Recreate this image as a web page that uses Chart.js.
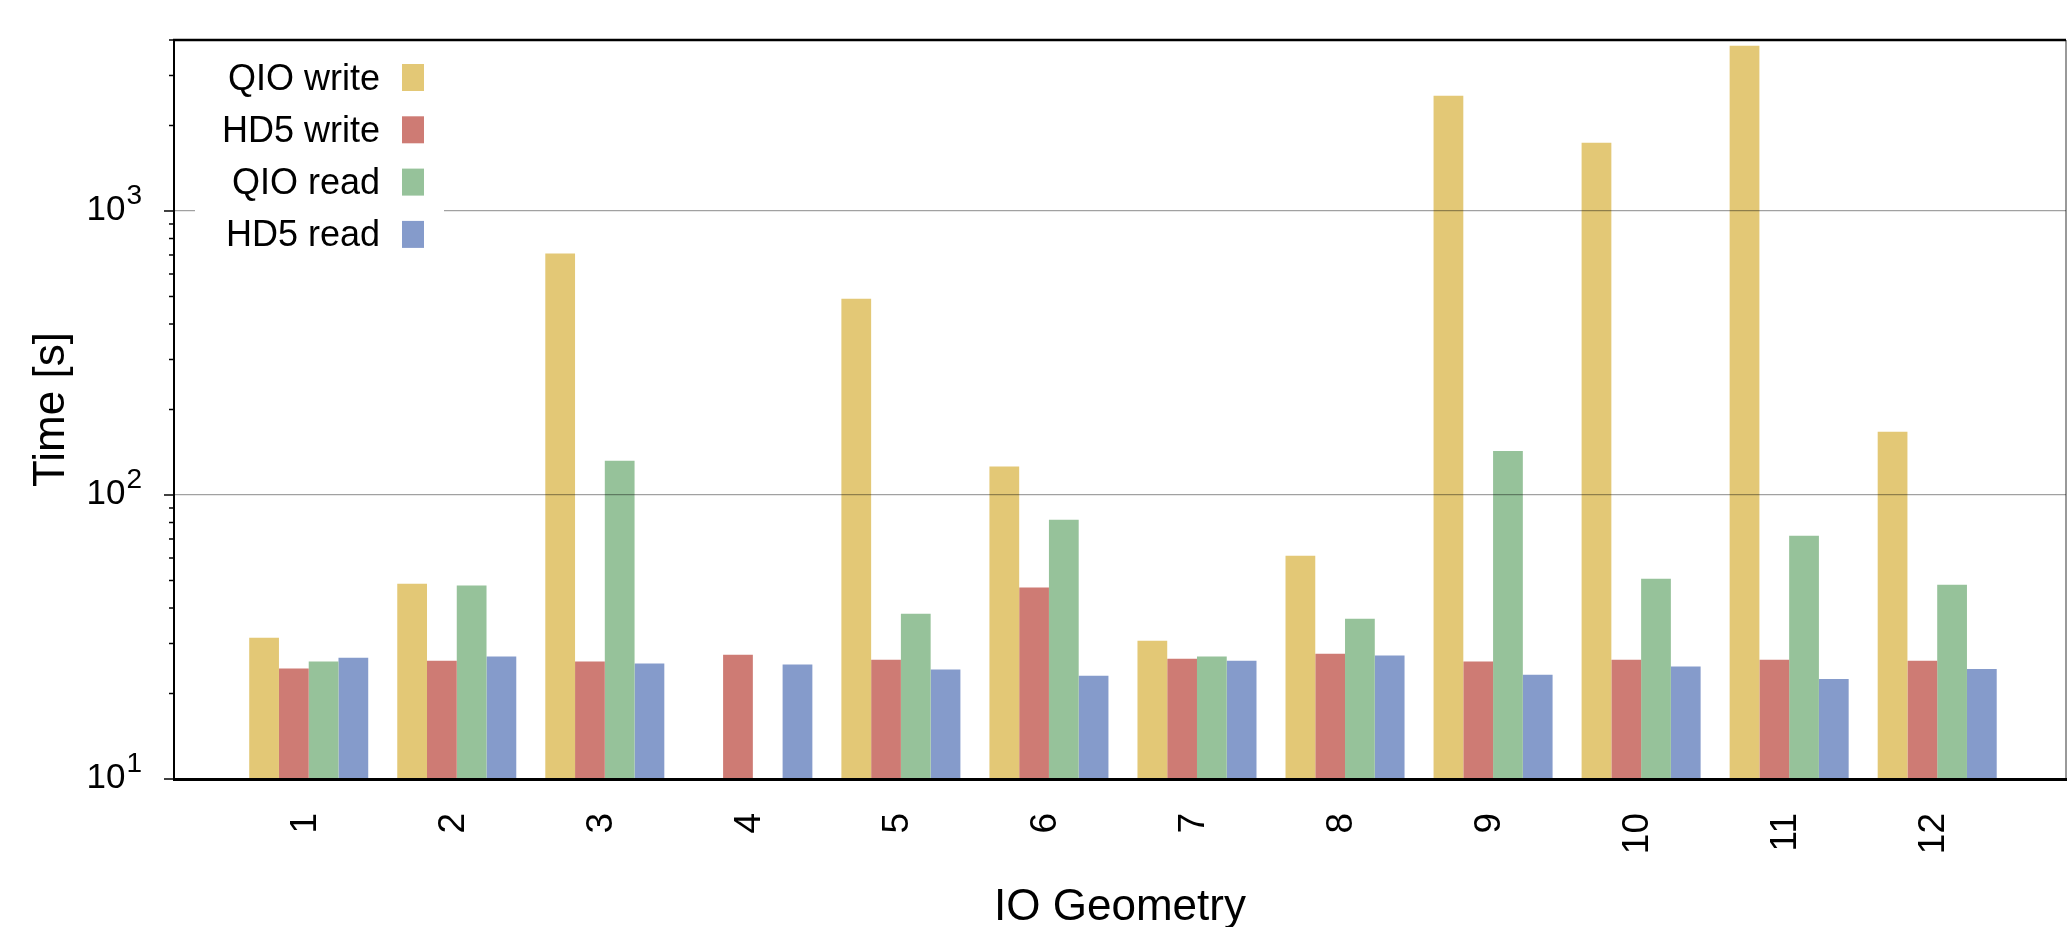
<!DOCTYPE html>
<html>
<head>
<meta charset="utf-8">
<script src="https://cdn.jsdelivr.net/npm/chart.js@4.4.0/dist/chart.umd.min.js"></script>
<style>
html,body{margin:0;padding:0;background:#fff;}
#wrap{width:2069px;height:927px;position:relative;}
</style>
</head>
<body>
<div id="wrap"><canvas id="c"></canvas></div>
<script>
// ---- data ----
const categories = ['1','2','3','4','5','6','7','8','9','10','11','12'];
const seriesNames = ['QIO write','HD5 write','QIO read','HD5 read'];
const qioWrite = [31.4, 48.7, 708, null, 491, 126, 30.7, 61.1, 2547, 1740, 3820, 167];
const hd5Write = [24.5, 26.1, 25.9, 27.4, 26.3, 47.2, 26.5, 27.6, 25.9, 26.3, 26.3, 26.1];
const qioRead  = [25.9, 48.0, 132, null, 38.2, 81.8, 27.0, 36.7, 143, 50.7, 71.9, 48.3];
const hd5Read  = [26.7, 27.0, 25.5, 25.3, 24.3, 23.1, 26.1, 27.2, 23.3, 24.9, 22.5, 24.4];
const yMajorTicks = [10, 100, 1000];
const yTickBase = '10';
const yTickExponents = ['1', '2', '3'];
const yMin = 10, yMax = 4000;
const xTitle = 'IO Geometry';
const yTitle = 'Time [s]';

// ---- styles ----
const seriesColors = ['#e3c876', '#ce7b74', '#96c29a', '#859bcb'];
const FONT = "'Liberation Sans', Arial, Helvetica, sans-serif";
Chart.defaults.font.family = FONT;
Chart.defaults.color = '#000';

const seriesValues = [qioWrite, hd5Write, qioRead, hd5Read];

const frameAndTicks = {
  id: 'frameAndTicks',
  afterDatasetsDraw(chart) {
    const ctx = chart.ctx, a = chart.chartArea, y = chart.scales.y;
    ctx.save();
    ctx.strokeStyle = '#000';
    ctx.lineWidth = 1.5;
    y.ticks.forEach(t => {
      const p = y.getPixelForValue(t.value);
      const lg = Math.log10(t.value);
      const major = Math.abs(lg - Math.round(lg)) < 1e-9;
      const len = major ? 10 : 5;
      ctx.beginPath();
      ctx.moveTo(a.left - len, p);
      ctx.lineTo(a.left, p);
      ctx.stroke();
    });
    // y tick labels: 10 with superscript exponent
    ctx.fillStyle = '#000';
    ctx.textBaseline = 'alphabetic';
    ctx.textAlign = 'left';
    yMajorTicks.forEach((v, i) => {
      const p = y.getPixelForValue(v);
      ctx.font = '35px ' + FONT;
      const wb = ctx.measureText(yTickBase).width;
      ctx.font = '28px ' + FONT;
      const we = ctx.measureText(yTickExponents[i]).width;
      const right = a.left - 32;
      const x0 = right - we - 1 - wb;
      ctx.font = '35px ' + FONT;
      ctx.fillText(yTickBase, x0, p + 9);
      ctx.font = '28px ' + FONT;
      ctx.fillText(yTickExponents[i], x0 + wb + 1, p - 7);
    });
    // right border
    ctx.strokeStyle = '#777';
    ctx.lineWidth = 1.5;
    ctx.beginPath();
    ctx.moveTo(a.right, a.top);
    ctx.lineTo(a.right, a.bottom);
    ctx.stroke();
    // top border
    ctx.strokeStyle = '#000';
    ctx.lineWidth = 2.5;
    ctx.beginPath();
    ctx.moveTo(a.left - 1, a.top);
    ctx.lineTo(a.right, a.top);
    ctx.stroke();
    ctx.restore();
  }
};

const insideLegend = {
  id: 'insideLegend',
  afterDraw(chart) {
    const ctx = chart.ctx, a = chart.chartArea;
    ctx.save();
    const bx = a.left + 21, by = a.top + 4;
    ctx.fillStyle = '#fff';
    ctx.fillRect(bx, by, 249, 212);
    ctx.font = '36px ' + FONT;
    ctx.textAlign = 'right';
    ctx.textBaseline = 'alphabetic';
    chart.data.datasets.forEach((ds, k) => {
      const cy = a.top + 37.5 + 52.3 * k;
      ctx.fillStyle = '#000';
      ctx.fillText(ds.label, a.left + 206, cy + 12);
      ctx.fillStyle = ds.backgroundColor;
      ctx.fillRect(a.left + 228, cy - 13.5, 22, 27);
    });
    ctx.restore();
  }
};

new Chart(document.getElementById('c'), {
  type: 'bar',
  data: {
    datasets: seriesNames.map((name, k) => ({
      label: name,
      data: seriesValues[k].map((v, i) => ({ x: i, y: v })),
      backgroundColor: seriesColors[k],
      borderWidth: 0,
      categoryPercentage: 0.804,
      barPercentage: 1.0
    }))
  },
  options: {
    responsive: true,
    maintainAspectRatio: false,
    animation: false,
    devicePixelRatio: 1,
    layout: { padding: { top: 40, right: 3, bottom: 0, left: 0 } },
    plugins: { legend: { display: false }, tooltip: { enabled: false } },
    scales: {
      x: {
        type: 'linear',
        offset: false,
        min: -0.91,
        max: 11.87,
        afterBuildTicks: (s) => { s.ticks = categories.map((c, i) => ({ value: i })); },
        afterFit: (s) => { s.height = 148; },
        grid: { display: false, drawTicks: false },
        border: { display: true, color: '#000', width: 3, z: 1 },
        ticks: {
          autoSkip: false,
          minRotation: 90,
          maxRotation: 90,
          padding: 34,
          labelOffset: -3,
          font: { size: 37 },
          color: '#000',
          callback: (v) => categories[v] ?? ''
        },
        title: {
          display: true,
          text: xTitle,
          font: { size: 44, lineHeight: 0.87 },
          color: '#000',
          padding: { top: 0, bottom: 0 }
        }
      },
      y: {
        type: 'logarithmic',
        min: yMin,
        max: yMax,
        afterBuildTicks: (s) => {
          const t = [];
          yMajorTicks.forEach(m => {
            for (let k = 1; k <= 9; k++) {
              const v = m * k;
              if (v <= yMax) t.push({ value: v, major: k === 1 });
            }
          });
          if (t[t.length - 1].value !== yMax) t.push({ value: yMax });
          s.ticks = t;
        },
        afterFit: (s) => { s.width = 174; },
        grid: {
          drawTicks: false,
          z: 1,
          lineWidth: 1.3,
          color: (ctx) => (ctx.tick && yMajorTicks.includes(ctx.tick.value) && ctx.tick.value !== yMin)
            ? 'rgba(0,0,0,0.37)' : 'rgba(0,0,0,0)'
        },
        border: { display: true, color: '#000', width: 2, z: 2 },
        ticks: { display: false },
        title: {
          display: true,
          text: yTitle,
          font: { size: 44, lineHeight: 1.2 },
          color: '#000',
          padding: { top: 25, bottom: 0 }
        }
      }
    }
  },
  plugins: [frameAndTicks, insideLegend]
});
</script>
</body>
</html>
